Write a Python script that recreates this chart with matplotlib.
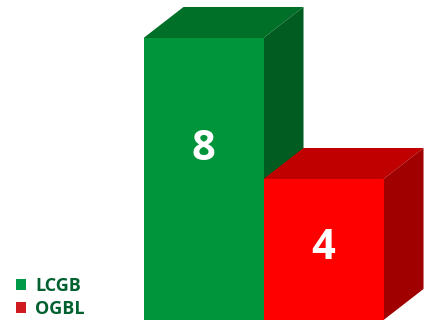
import matplotlib
matplotlib.use('Agg')
import matplotlib.pyplot as plt
from matplotlib.patches import Polygon, Patch

categories = ['LCGB', 'OGBL']
values = [8, 4]
front_colors = ['#00953b', '#ff0000']
top_colors = ['#006f28', '#c00000']
side_colors = ['#005c20', '#a00000']
legend_colors = ['#009a48', '#cf1a1f']
label_heights = [4.85, 2.02]

plt.rcParams['font.family'] = ['Open Sans', 'DejaVu Sans']

fig = plt.figure(figsize=(4.24, 3.2), dpi=100)
ax = fig.add_axes([0, 0, 1, 1])
ax.set_xlim(-1.696, 1.837)
ax.set_ylim(0, 9.078)
ax.axis('off')

bar_w = 1.0
depth_x = 0.333
depth_y = 0.88

for i, v in enumerate(values):
    left = i - bar_w / 2
    right = i + bar_w / 2
    # top and side faces of the box, offset from the front face
    ax.add_patch(Polygon([(left, v), (right, v), (right + depth_x, v + depth_y), (left + depth_x, v + depth_y)],
                         closed=True, fc=top_colors[i], ec='none', zorder=i * 2 + 1))
    ax.add_patch(Polygon([(right, 0), (right, v), (right + depth_x, v + depth_y), (right + depth_x, depth_y)],
                         closed=True, fc=side_colors[i], ec='none', zorder=i * 2 + 1))
    ax.bar(i, v, bar_w, color=front_colors[i], zorder=i * 2 + 2)
    ax.text(i, label_heights[i], str(v), color='white', fontsize=30, fontweight='bold',
            ha='center', va='center', zorder=10)

handles = [Patch(fc=c, ec='none') for c in legend_colors]
ax.legend(handles, categories, loc='lower left', bbox_to_anchor=(16 / 424, 2 / 320), frameon=False,
          borderpad=0, borderaxespad=0, handlelength=0.56, handleheight=0.56, handletextpad=0.5,
          labelspacing=0.28, labelcolor='#00602f', prop={'size': 13, 'weight': 'bold'})

fig.savefig('out.png', dpi=100)
